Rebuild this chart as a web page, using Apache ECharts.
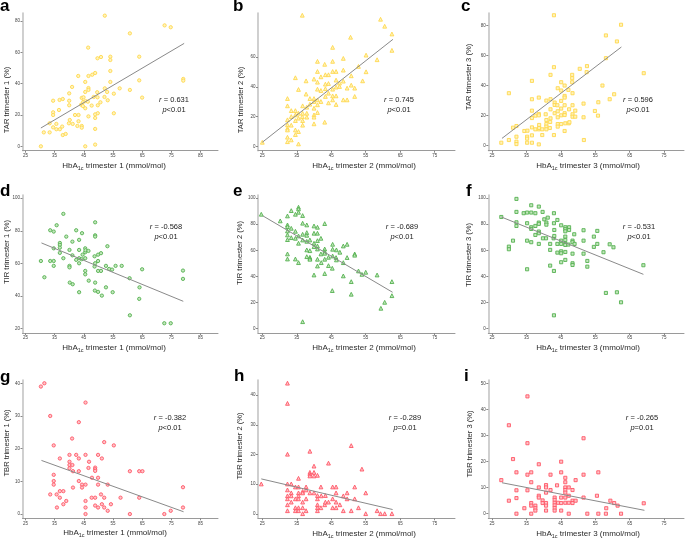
<!DOCTYPE html>
<html><head><meta charset="utf-8">
<script src="https://cdn.jsdelivr.net/npm/echarts@6/dist/echarts.min.js"></script>
<style>html,body{margin:0;padding:0;background:#fff}#c{width:685px;height:539px}</style>
</head><body><div id="c"></div>
<script>
// ---------- DATA ----------
const tarT1 = [[30.3,0],[31.3,8.9],[33.3,8.9],[33.3,14.7],[34.5,12.1],[34.5,21.7],[34.5,20.0],[34.5,29.1],[35.6,14.3],[35.6,10.9],[36.5,23.2],[36.7,29.6],[36.8,10.9],[37.6,12.6],[37.8,7.2],[37.8,30.2],[38.8,7.9],[39.9,14.7],[40.0,33.8],[40.0,29.1],[40.0,26.2],[40.2,16.8],[41.0,37.9],[41.2,14.3],[42.0,20.0],[42.8,13.0],[43.1,44.9],[43.2,20.0],[43.2,16.0],[44.1,26.6],[44.3,30.9],[44.3,13.0],[44.3,11.9],[44.7,25.7],[44.8,28.3],[44.9,31.3],[45.5,41.1],[45.5,34.7],[45.5,24.3],[45.5,0],[45.6,28.9],[46.4,28.5],[46.5,63.0],[46.6,44.9],[46.6,37.2],[46.6,36.0],[46.6,19.1],[47.7,26.0],[47.9,45.7],[48.4,31.5],[48.9,46.8],[48.9,20.4],[48.9,18.1],[48.9,11.1],[48.9,1.1],[49.6,34.5],[49.7,56.2],[49.7,31.3],[49.8,26.2],[49.8,21.1],[50.7,28.1],[50.9,57.0],[52.1,31.5],[52.2,83.4],[52.2,37.0],[53.0,34.7],[53.2,29.4],[54.1,57.2],[54.1,55.1],[54.1,48.1],[54.1,41.1],[55.3,33.6],[55.3,21.1],[57.3,37.0],[60.8,72.1],[60.8,36.0],[64.0,57.2],[64.0,42.1],[65.0,31.1],[72.7,77.2],[74.8,76.0],[79.1,43.0],[79.1,41.9]];
const tarT2 = [[25.0,2.7],[32.3,32.1],[32.3,27.2],[32.3,17.8],[32.3,14.4],[32.3,12.1],[32.3,11.0],[32.3,6.1],[32.3,3.1],[33.4,24.0],[33.4,20.0],[33.4,14.2],[33.4,4.3],[34.6,46.1],[34.6,24.0],[34.6,21.1],[34.6,17.3],[34.6,11.0],[34.6,7.9],[35.5,38.2],[35.5,22.2],[35.5,18.9],[35.5,9.9],[35.5,1.6],[36.6,20.0],[36.6,88.1],[36.7,27.2],[36.7,22.2],[36.7,17.3],[36.7,14.2],[37.7,44.0],[37.7,35.1],[37.9,26.3],[37.9,22.2],[37.9,19.6],[38.8,32.1],[38.8,28.3],[40.0,45.2],[40.0,32.1],[40.0,30.1],[40.0,25.6],[40.0,21.1],[40.0,19.6],[40.0,15.1],[41.0,57.1],[41.0,50.3],[41.0,43.1],[41.0,38.4],[41.0,31.2],[41.0,27.9],[41.0,22.7],[42.0,46.7],[42.0,37.5],[42.0,30.1],[43.1,55.1],[43.1,16.2],[43.3,48.1],[43.3,41.8],[43.3,38.7],[43.3,33.5],[44.2,48.1],[44.2,42.2],[44.2,35.7],[44.2,29.2],[45.4,66.5],[45.4,57.1],[45.4,50.3],[45.4,38.4],[45.4,33.9],[45.4,31.2],[46.4,50.3],[46.4,44.5],[46.4,39.8],[46.4,33.9],[46.4,28.1],[47.4,42.5],[47.4,40.2],[48.5,59.1],[48.5,51.2],[48.5,43.8],[48.5,31.2],[49.6,39.1],[49.6,31.2],[50.6,73.3],[50.8,47.4],[50.8,41.1],[51.8,39.1],[51.8,33.5],[52.9,53.7],[54.1,44.0],[55.1,61.3],[55.1,50.1],[58.3,58.2],[59.3,85.4],[60.5,80.7],[62.6,75.5],[62.6,64.5]];
const tarT3 = [[27.7,2.0],[29.9,34.9],[29.9,3.8],[31.1,12.0],[32.1,13.1],[32.1,6.0],[32.1,2.7],[32.1,1.1],[34.4,9.8],[35.2,6.0],[35.2,4.7],[35.2,2.0],[35.3,10.0],[36.6,43.1],[36.6,30.9],[36.6,23.3],[36.6,18.4],[36.6,12.2],[36.6,6.9],[36.6,2.0],[37.6,20.0],[37.6,10.9],[38.6,32.0],[38.6,21.1],[38.6,20.2],[38.6,10.9],[38.6,0.9],[38.7,13.8],[38.7,11.8],[39.6,10.9],[39.6,7.1],[40.6,20.9],[40.8,30.0],[40.8,17.1],[40.8,14.4],[40.8,12.7],[40.8,10.9],[41.8,11.8],[41.9,15.8],[42.0,47.1],[42.0,30.9],[42.0,24.2],[42.0,18.2],[43.0,86.7],[43.0,52.2],[43.0,7.1],[43.2,28.7],[43.2,27.1],[43.2,21.6],[44.0,26.9],[44.1,38.2],[44.1,22.9],[44.1,18.9],[44.1,14.4],[44.1,12.7],[45.1,42.2],[45.1,36.7],[45.1,29.8],[45.1,24.7],[45.1,20.2],[45.1,14.4],[46.1,40.0],[46.1,33.1],[46.1,32.0],[46.1,26.9],[46.1,21.6],[46.1,20.4],[46.1,9.8],[46.3,14.9],[47.2,37.1],[47.3,14.9],[47.4,24.2],[47.5,15.6],[48.3,47.1],[48.3,44.9],[48.3,42.2],[48.4,34.9],[48.4,26.9],[48.4,20.9],[48.4,19.3],[49.2,23.3],[49.2,19.3],[50.5,51.1],[51.6,28.0],[51.6,18.9],[51.7,3.8],[52.5,48.9],[52.6,52.9],[54.9,23.1],[55.8,20.0],[55.9,28.9],[57.1,40.0],[58.1,73.3],[58.1,58.2],[59.2,30.9],[60.5,34.2],[61.3,69.3],[62.5,80.4],[69.1,48.2]];
const tirT1 = [[30.3,61.4],[31.5,51.4],[33.5,80.3],[33.5,61.4],[34.7,79.5],[34.7,69.2],[34.7,61.4],[34.7,58.4],[35.7,83.4],[36.8,72.5],[36.8,71.3],[36.8,69.6],[36.8,66.4],[38.0,90.4],[38.0,63.1],[39.0,76.4],[40.1,68.2],[40.1,58.4],[40.1,57.5],[40.2,48.1],[41.1,73.3],[41.1,64.9],[41.2,47.1],[42.4,80.3],[42.4,62.1],[43.4,74.4],[43.4,68.2],[43.4,63.1],[43.4,60.0],[43.4,42.2],[44.3,62.5],[44.4,78.5],[44.6,65.3],[45.5,69.2],[45.5,66.8],[45.5,63.1],[45.5,55.3],[45.5,53.2],[45.6,68.0],[46.6,67.6],[46.7,49.3],[48.7,64.3],[48.7,58.0],[48.8,43.2],[48.9,85.2],[48.9,77.2],[48.9,76.4],[48.9,60.0],[48.9,48.1],[49.9,65.3],[49.9,61.4],[49.9,55.3],[49.9,42.4],[50.9,66.2],[50.9,55.3],[51.2,40.1],[52.6,58.4],[52.6,45.2],[53.1,70.5],[53.7,56.5],[54.7,56.1],[54.9,42.2],[55.9,58.4],[58.0,58.4],[60.7,50.8],[60.8,28.0],[64.0,38.1],[64.1,45.2],[65.0,56.3],[72.6,23.1],[74.8,23.1],[79.0,55.5],[79.0,50.4]];
const tirT2 = [[24.7,87.7],[30.2,82.6],[32.3,86.4],[32.3,79.5],[32.3,78.2],[32.3,74.9],[32.3,71.8],[32.3,68.2],[32.3,57.2],[32.3,53.3],[33.4,90.5],[33.4,76.9],[33.4,69.7],[34.6,87.7],[34.6,74.6],[34.6,69.2],[34.6,53.3],[35.5,93.1],[35.5,91.8],[35.5,89.2],[35.5,71.0],[35.5,65.4],[35.5,50.5],[36.7,86.7],[36.7,80.8],[36.7,72.3],[36.7,67.9],[36.7,5.1],[37.9,79.5],[37.9,73.6],[37.9,71.5],[37.9,66.9],[37.9,60.3],[37.9,55.1],[38.8,67.9],[38.8,59.7],[38.8,54.6],[38.8,53.8],[38.8,53.1],[40.0,78.7],[40.0,73.1],[40.0,65.4],[40.0,62.8],[40.0,41.0],[41.0,77.7],[41.0,73.1],[41.0,67.4],[41.0,63.3],[41.0,61.0],[41.0,53.1],[41.0,47.9],[42.0,69.2],[42.0,57.2],[42.1,50.5],[43.1,80.5],[43.1,61.0],[43.1,59.0],[43.1,57.7],[43.1,53.1],[43.1,42.1],[44.2,54.6],[44.2,48.2],[45.3,46.2],[45.3,29.0],[45.4,64.6],[45.4,60.8],[45.4,55.6],[46.4,54.4],[46.5,60.3],[46.5,52.6],[47.5,58.5],[48.5,63.3],[48.5,50.5],[48.5,40.3],[49.6,64.6],[49.6,54.4],[50.8,35.9],[50.8,26.2],[51.8,57.2],[51.8,56.2],[52.9,44.1],[53.9,41.5],[55.0,43.1],[58.3,41.0],[59.4,15.4],[60.5,20.0],[62.6,35.9],[62.6,25.1]];
const tirT3 = [[27.7,85.6],[29.9,62.8],[29.9,60.8],[31.1,67.4],[32.1,99.5],[32.1,89.5],[32.1,81.5],[32.1,78.7],[34.2,88.5],[35.2,89.0],[35.2,80.8],[35.2,67.4],[35.2,45.4],[36.4,94.6],[36.4,89.0],[36.4,77.7],[36.4,76.4],[36.4,66.2],[37.6,88.5],[37.6,78.7],[37.6,71.8],[38.6,93.6],[38.6,81.3],[38.6,80.3],[38.6,74.4],[38.6,73.1],[38.6,64.9],[39.7,89.5],[39.8,69.2],[40.2,83.8],[40.7,69.2],[40.8,81.3],[40.8,79.7],[41.2,85.1],[41.9,64.9],[41.9,60.3],[41.9,48.2],[42.9,69.2],[43.0,88.5],[43.0,80.8],[43.0,44.1],[43.0,10.0],[43.1,75.6],[43.1,71.0],[44.0,83.3],[44.0,64.9],[44.0,58.2],[45.1,79.2],[45.1,67.4],[45.1,64.9],[45.1,59.2],[45.1,57.7],[45.1,50.8],[46.3,77.7],[46.3,76.2],[46.3,74.6],[46.3,70.5],[46.3,67.9],[46.3,64.9],[46.3,64.1],[46.3,58.7],[46.3,52.6],[47.2,64.4],[47.4,77.7],[47.4,75.6],[48.4,67.4],[48.4,66.2],[48.4,57.4],[48.4,50.0],[48.4,48.7],[48.9,72.3],[49.0,64.9],[51.6,75.4],[51.6,67.4],[51.6,57.4],[52.7,51.8],[52.7,47.4],[54.6,70.5],[54.6,62.6],[55.6,74.9],[55.6,64.9],[57.4,58.5],[58.1,27.2],[59.2,64.6],[60.3,62.3],[61.3,27.7],[62.5,20.0],[69.0,48.5]];
const tbrT1 = [[30.3,39.0],[31.5,40.0],[33.5,30.0],[33.5,6.0],[34.7,21.0],[34.7,12.0],[34.7,10.1],[34.7,9.0],[35.7,6.0],[35.8,2.0],[36.8,17.0],[36.8,7.0],[36.8,5.0],[38.0,7.0],[38.0,3.0],[39.0,4.0],[40.1,18.1],[40.1,16.0],[40.1,15.0],[40.1,14.0],[41.0,23.1],[41.1,15.0],[41.3,13.1],[41.3,8.1],[42.4,18.1],[43.3,28.1],[43.3,17.0],[43.3,13.1],[43.3,10.1],[44.4,9.0],[44.4,8.1],[45.6,34.1],[45.6,18.1],[45.6,9.0],[45.6,4.0],[45.6,2.0],[45.6,0],[46.6,14.1],[46.8,16.0],[47.7,5.0],[47.8,11.1],[48.9,14.2],[48.9,13.7],[48.9,13.2],[48.9,5.0],[48.9,2.6],[49.9,18.1],[49.9,11.1],[49.9,9.0],[49.9,2.0],[50.9,6.0],[51.2,17.0],[51.2,3.0],[52.0,22.0],[52.0,5.0],[52.0,2.0],[53.2,9.0],[53.2,1.0],[54.3,3.0],[55.3,21.0],[57.6,5.0],[60.8,13.1],[60.8,0],[64.0,13.1],[64.0,5.0],[65.1,13.1],[72.6,0],[74.8,1.0],[79.0,8.2],[79.0,2.0]];
const tbrT2 = [[24.7,10.1],[32.3,44.0],[32.3,37.2],[32.3,20.1],[32.3,10.1],[32.3,8.1],[32.3,6.1],[32.3,5.1],[32.3,3.1],[32.3,1.1],[33.4,10.1],[33.4,7.1],[33.4,6.1],[33.4,4.0],[34.6,9.1],[34.6,5.1],[34.6,2.1],[34.6,1.1],[35.5,12.0],[35.5,9.1],[35.5,7.1],[35.5,6.1],[35.5,5.1],[35.5,2.1],[35.5,1.1],[36.7,7.6],[36.7,7.1],[36.7,4.0],[36.7,2.1],[36.7,0.1],[37.7,9.1],[37.7,8.1],[37.7,5.1],[37.7,1.1],[38.8,21.1],[38.8,14.0],[38.8,13.4],[38.8,12.8],[38.8,7.1],[40.0,16.1],[40.0,14.0],[40.0,12.8],[40.0,7.1],[41.0,13.0],[41.0,6.2],[41.0,5.1],[41.0,3.1],[41.0,2.1],[41.0,1.1],[42.0,9.1],[42.0,2.1],[42.1,6.1],[43.1,3.1],[43.3,6.2],[43.3,4.0],[44.2,17.1],[44.2,4.0],[45.4,9.1],[45.4,5.1],[45.4,2.1],[46.4,9.1],[46.4,7.1],[46.4,4.0],[46.4,2.1],[47.5,3.1],[48.5,6.1],[48.5,1.1],[49.6,7.1],[49.6,5.1],[50.8,23.0],[50.8,1.1],[51.8,9.1],[51.8,5.1],[52.9,2.1],[53.9,15.1],[55.0,7.1],[55.0,0.1],[58.3,1.1],[59.3,0.1],[60.5,0.1],[62.6,0.1]];
const tbrT3 = [[27.7,12.9],[29.9,34.0],[29.9,5.0],[31.1,21.0],[32.1,15.9],[32.1,9.0],[32.1,6.0],[32.1,0],[34.4,2.1],[35.3,45.1],[35.3,27.1],[35.3,15.0],[35.3,9.0],[36.4,15.9],[36.4,12.1],[36.4,4.1],[36.4,3.1],[36.4,0],[37.6,3.1],[37.6,2.1],[37.6,1.2],[38.6,19.0],[38.6,10.1],[38.6,6.9],[38.6,6.2],[39.7,5.1],[39.7,4.1],[40.7,11.0],[40.7,10.1],[40.7,8.1],[40.7,4.1],[40.7,3.1],[40.7,1.2],[42.0,15.0],[42.0,9.1],[43.2,6.2],[43.2,5.3],[43.2,4.2],[43.2,3.2],[43.2,2.2],[43.2,1.2],[43.9,10.9],[44.2,4.2],[45.1,20.0],[45.1,15.9],[45.1,6.2],[45.1,4.1],[45.1,1.2],[46.3,13.8],[46.3,12.1],[46.3,10.1],[46.3,9.1],[46.3,8.1],[46.3,6.2],[46.3,4.2],[47.3,10.1],[47.3,6.9],[47.3,4.2],[47.3,0],[48.4,9.1],[48.4,5.0],[48.4,4.1],[49.3,12.9],[49.3,5.0],[51.6,29.0],[51.6,15.0],[51.6,6.2],[52.7,0],[55.5,6.9],[55.9,15.9],[55.9,0],[58.1,0],[58.2,2.1],[59.4,5.0],[60.5,4.1],[61.5,3.1],[62.5,0],[69.1,4.0]];

// regression line end points
const fitA = [[30.3,11.7],[79.4,65.7]];
const fitB = [[25.0,2.7],[62.9,71.9]];
const fitC = [[27.9,4.9],[62.6,65.6]];
const fitD = [[30.5,72.5],[79.1,36.6]];
const fitE = [[25.2,86.4],[62.8,27.7]];
const fitF = [[27.7,85.6],[69.0,41.5]];
const fitG = [[30.5,16.4],[79.2,0.7]];
const fitH = [[24.7,11.8],[62.8,1.5]];
const fitI = [[27.9,11.9],[69.3,1.3]];

// tick labels
const xTicksT1 = [25,35,45,55,65,75,85];
const xTicksT2 = [25,35,45,55,65,75];
const xTicksT3 = [25,35,45,55,65,75];
const yTicksA = [0,20,40,60,80];
const yTicksB = [0,20,40,60];
const yTicksC = [0,20,40,60,80];
const yTicksD = [20,40,60,80,100];
const yTicksE = [0,20,40,60,80,100];
const yTicksF = [0,20,40,60,80,100];
const yTicksG = [0,10,20,30,40];
const yTicksH = [0,10,20,30,40];
const yTicksI = [0,10,20,30,40,50];

const letters = ['a','b','c','d','e','f','g','h','i'];
const rowMetrics = ['TAR','TIR','TBR'];
const colTrimesters = ['1','2','3'];
const rValues = ['0.631','0.745','0.596','-0.568','-0.689','-0.531','-0.382','-0.289','-0.265'];
const pValues = ['<0.01','<0.01','<0.01','<0.01','<0.01','<0.01','<0.01','=0.01','=0.01'];

// ---------- LAYOUT / STYLE ----------
const FONT = 'Liberation Sans, Arial, Helvetica, sans-serif';
const colX = [{left:22.5, width:195.5}, {left:258, width:197}, {left:488.3, width:195.7}];
const rowY = [{top:13, height:137.7}, {top:195, height:138}, {top:380, height:138.3}];
const xRanges = [[24,91],[23.75,80.9],[23.92,80.8]];
const yRanges = [[-2.8,85.1],[-2.96,89.6],[-3.3,88.2],[17.1,102],[-3.6,102.5],[-3.6,102.5],[-1.3,41.0],[-1.45,45.06],[-1.77,51.4]];
const rowColors = [
  {fill:'#FFF3BC', border:'#FFD84E'},
  {fill:'#C4E6BD', border:'#55B150'},
  {fill:'#FFC4C9', border:'#FF5767'}
];
const colSymbols = ['circle','triangle','rect'];
const colSizes = [3.3, 3.8, 3.1];
const panelData = [tarT1,tarT2,tarT3,tirT1,tirT2,tirT3,tbrT1,tbrT2,tbrT3];
const panelFits = [fitA,fitB,fitC,fitD,fitE,fitF,fitG,fitH,fitI];
const panelXTicks = [xTicksT1,xTicksT2,xTicksT3,xTicksT1,xTicksT2,xTicksT3,xTicksT1,xTicksT2,xTicksT3];
const panelYTicks = [yTicksA,yTicksB,yTicksC,yTicksD,yTicksE,yTicksF,yTicksG,yTicksH,yTicksI];

// text positions
const letterPos = [[0,14.5],[233,14.5],[461,14.5],[0,199.5],[233,199.5],[466,199.5],[0,385.5],[234,384.5],[464,384.5]];
const xTitlePos = [[114,166],[364,166],[588,166],[114,348],[364,348],[588,348],[115,533],[364,534],[588,534]];
const yTitlePos = [[7,100],[241,100],[469,77],[7,252],[240,253],[469,255],[7,443],[240,446],[470,444]];
const annPos = [[174,105],[399,105],[638,105],[166,232],[402,232],[639,232],[170,423],[405,423],[642,423]];

const grids=[], xAxes=[], yAxes=[], series=[], graphics=[];
for (let i=0;i<9;i++){
  const r=Math.floor(i/3), c=i%3;
  grids.push({left:colX[c].left, top:rowY[r].top, width:colX[c].width, height:rowY[r].height, containLabel:false, outerBoundsMode:'none'});
  xAxes.push({
    gridIndex:i, type:'value', min:xRanges[c][0], max:xRanges[c][1],
    splitLine:{show:false},
    axisLine:{onZero:false, lineStyle:{color:'#9a9a9a', width:1}},
    axisTick:{customValues:panelXTicks[i], length:2, lineStyle:{color:'#888'}},
    axisLabel:{customValues:panelXTicks[i], fontSize:4.5, color:'#444', margin:2.5, fontFamily:FONT}
  });
  yAxes.push({
    gridIndex:i, type:'value', min:yRanges[i][0], max:yRanges[i][1],
    splitLine:{show:false},
    axisLine:{onZero:false, lineStyle:{color:'#c4c4c4', width:1.6}},
    axisTick:{customValues:panelYTicks[i], length:2, lineStyle:{color:'#888'}},
    axisLabel:{customValues:panelYTicks[i], fontSize:4.5, color:'#444', margin:2.5, fontFamily:FONT}
  });
  series.push({
    type:'scatter', xAxisIndex:i, yAxisIndex:i, data:panelData[i],
    symbol:colSymbols[c], symbolSize:colSizes[c],
    itemStyle:{color:rowColors[r].fill, borderColor:rowColors[r].border, borderWidth:0.9, opacity:1},
    silent:true, z:2
  });
  series.push({
    type:'line', xAxisIndex:i, yAxisIndex:i, data:panelFits[i],
    symbol:'none', lineStyle:{color:'#8a8a8a', width:1}, silent:true, z:3
  });
  graphics.push({type:'text', x:letterPos[i][0], y:letterPos[i][1],
    style:{text:letters[i], font:'bold 17px '+FONT, fill:'#000', verticalAlign:'bottom', align:'left'}});
  graphics.push({type:'text', x:xTitlePos[i][0], y:xTitlePos[i][1],
    style:{text:'{n|HbA}{s|1c}{n| trimester '+colTrimesters[c]+' (mmol/mol)}', align:'center', verticalAlign:'middle',
      rich:{n:{fontSize:8, fontFamily:FONT, fill:'#2a2a2a', lineHeight:10, verticalAlign:'middle'},
            s:{fontSize:5.5, fontFamily:FONT, fill:'#2a2a2a', lineHeight:6, verticalAlign:'bottom'}}}});
  graphics.push({type:'text', x:yTitlePos[i][0], y:yTitlePos[i][1], rotation:Math.PI/2,
    style:{text:rowMetrics[r]+' trimester '+colTrimesters[c]+' (%)', align:'center', verticalAlign:'middle',
      fontSize:7.6, fontFamily:FONT, fill:'#2a2a2a'}});
  graphics.push({type:'text', x:annPos[i][0], y:annPos[i][1],
    style:{text:'{it|r}{n| = '+rValues[i]+'}\n{it|p}{n|'+pValues[i]+'}', align:'center', verticalAlign:'middle',
      rich:{n:{fontSize:7.5, fontFamily:FONT, fill:'#222', lineHeight:9.5},
            it:{fontSize:7.5, fontStyle:'italic', fontFamily:FONT, fill:'#222', lineHeight:9.5}}}});
}

const chart = echarts.init(document.getElementById('c'), null, {renderer:'canvas'});
chart.setOption({
  animation:false, backgroundColor:'#fff',
  grid:grids, xAxis:xAxes, yAxis:yAxes, series:series, graphic:graphics
});
</script>
</body></html>
